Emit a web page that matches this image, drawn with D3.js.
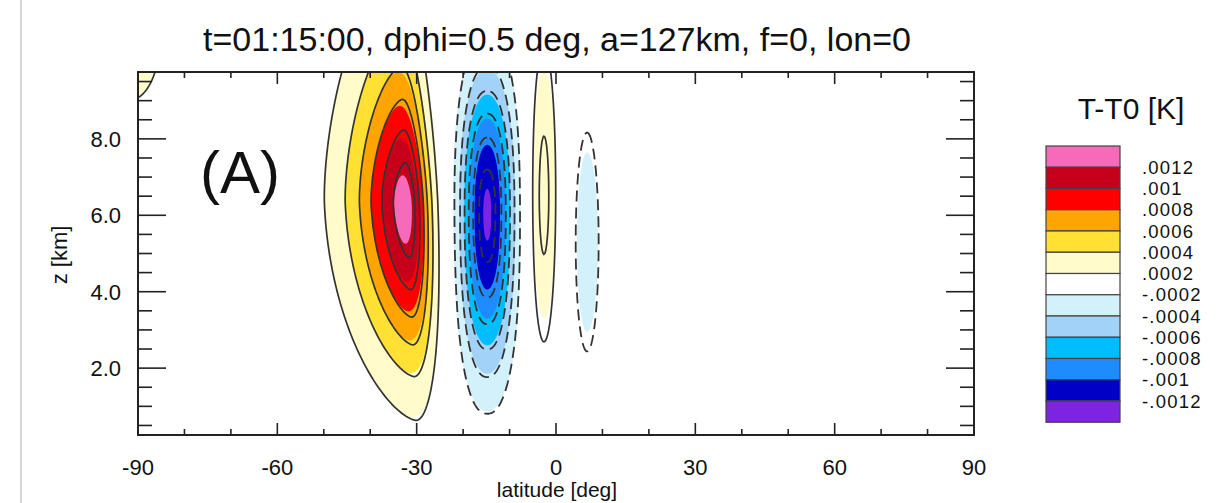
<!DOCTYPE html>
<html><head><meta charset="utf-8">
<script src="https://cdn.jsdelivr.net/npm/d3@7"></script>
<style>
body{margin:0;background:#fff;}
svg{display:block;}
text{font-family:"Liberation Sans",Arial,Helvetica,sans-serif;fill:#111;}
</style>
</head><body>
<svg id="c" width="1227" height="503"></svg>
<script>
// ---------- data ----------
const titleText = "t=01:15:00, dphi=0.5 deg, a=127km, f=0, lon=0";
const xLabel = "latitude [deg]";
const yLabel = "z [km]";
const legendTitle = "T-T0 [K]";
const panelTag = "(A)";
const xTicks = [-90, -60, -30, 0, 30, 60, 90];
const yTicks = [2, 4, 6, 8];
const yTickLabels = ["2.0", "4.0", "6.0", "8.0"];
const latDomain = [-90, 90];
const zDomain = [0.25, 9.75];
// contour levels (K)
const levels = [-0.0012, -0.001, -0.0008, -0.0006, -0.0004, -0.0002, 0.0002, 0.0004, 0.0006, 0.0008, 0.001, 0.0012];
const levelLabels = ["-.0012", "-.001", "-.0008", "-.0006", "-.0004", "-.0002", ".0002", ".0004", ".0006", ".0008", ".001", ".0012"];
// band colours, lowest band first
const bandColors = ["#7e22e4", "#0000c6", "#1e8cff", "#00bdfd", "#a2d2f7", "#d2f1fb", "#ffffff",
                    "#fffbcb", "#ffe033", "#ffa400", "#fe0000", "#c6001b", "#f56bb9"];
// anomaly cells: centre lat / z, peak (K), half-widths (deg west/east, km up/down),
// profile exponents (lat west/east, z up/down) and tilt (deg per km)
const cellLat   = [-32.1, -14.8, -2.6, 6.7, -92.0];
const cellZ     = [6.3, 6.05, 6.5, 5.3, 10.5];
const cellPeak  = [0.00135, -0.00129, 0.00046, -0.0003, 0.00024];
const cellWest  = [11.7, 5.5, 2.9, 3.9, 15.3];
const cellEast  = [4.9, 5.5, 2.9, 3.9, 15.3];
const cellUp    = [4.1, 3.6, 4.3, 4.5, 3.5];
const cellDown  = [4.1, 4.0, 4.2, 4.5, 3.5];
const cellPWest = [1.55, 2.3, 2.0, 2.0, 2.0];
const cellPEast = [2.0, 2.3, 2.0, 2.0, 2.0];
const cellPUp   = [1.6, 2.3, 2.0, 2.0, 2.0];
const cellPDown = [2.0, 2.3, 2.0, 2.0, 2.0];
const cellTilt  = [-0.35, 0.0, 0.0, 0.0, 0.0];

// ---------- layout ----------
const svg = d3.select("#c");
const X0 = 138, X1 = 974, Y0 = 72, Y1 = 435;
const x = d3.scaleLinear().domain(latDomain).range([X0, X1]);
const y = d3.scaleLinear().domain(zDomain).range([Y1, Y0]);

svg.append("line").attr("x1", 21).attr("x2", 21).attr("y1", 0).attr("y2", 503)
  .attr("stroke", "#c8c8c8").attr("stroke-width", 1.5);

// ---------- field ----------
function field(lat, z) {
  let v = 0;
  for (let k = 0; k < cellLat.length; k++) {
    const dz = z - cellZ[k];
    const dx = lat - (cellLat[k] + cellTilt[k] * dz);
    const ex = dx < 0 ? Math.pow(-dx / cellWest[k], cellPWest[k]) : Math.pow(dx / cellEast[k], cellPEast[k]);
    const ez = dz > 0 ? Math.pow(dz / cellUp[k], cellPUp[k]) : Math.pow(-dz / cellDown[k], cellPDown[k]);
    v += cellPeak[k] * Math.exp(-(ex + ez));
  }
  return v;
}
const gLat0 = -100, gLat1 = 100, gDl = 0.2, gZ0 = -0.5, gZ1 = 10.5, gDz = 0.02;
const nx = Math.round((gLat1 - gLat0) / gDl) + 1;
const ny = Math.round((gZ1 - gZ0) / gDz) + 1;
const raw = new Float64Array(nx * ny);
for (let j = 0; j < ny; j++) for (let i = 0; i < nx; i++)
  raw[j * nx + i] = field(gLat0 + i * gDl, gZ0 + j * gDz);
// shaded field: rendered as a slightly smoothed raster, like the original plot's fill
const shade = Float64Array.from(raw);
d3.blur2({data: shade, width: nx, height: ny}, 7, 4);

const proj = d3.geoTransform({
  point(px, py) { this.stream.point(x(gLat0 + (px - 0.5) * gDl), y(gZ0 + (py - 0.5) * gDz)); }
});
const path = d3.geoPath(proj);

svg.append("defs").append("clipPath").attr("id", "plotclip")
  .append("rect").attr("x", X0).attr("y", Y0).attr("width", X1 - X0).attr("height", Y1 - Y0);
const plot = svg.append("g").attr("clip-path", "url(#plotclip)");
plot.append("rect").attr("x", X0).attr("y", Y0).attr("width", X1 - X0).attr("height", Y1 - Y0).attr("fill", bandColors[6]);

const posLevels = levels.filter(l => l > 0);
const negLevels = levels.filter(l => l < 0).map(l => -l).sort((a, b) => a - b);
const C = d3.contours().size([nx, ny]);
const fillPos = C.thresholds(posLevels)(shade);
const fillNeg = C.thresholds(negLevels)(shade.map(v => -v));
const linePos = C.thresholds(posLevels)(raw);
const lineNeg = C.thresholds(negLevels)(raw.map(v => -v));

fillNeg.forEach((c, i) => plot.append("path").attr("d", path(c)).attr("fill", bandColors[5 - i]));
fillPos.forEach((c, i) => plot.append("path").attr("d", path(c)).attr("fill", bandColors[7 + i]));
lineNeg.forEach(c => plot.append("path").attr("d", path(c)).attr("fill", "none")
  .attr("stroke", "#333").attr("stroke-width", 1.8).attr("stroke-dasharray", "11,6"));
linePos.forEach(c => plot.append("path").attr("d", path(c)).attr("fill", "none")
  .attr("stroke", "#333").attr("stroke-width", 1.7));

// ---------- axes / ticks ----------
const tk = svg.append("g").attr("stroke", "#222").attr("stroke-width", 1.6);
const xMinor = d3.range(-80, 90, 10).filter(v => v % 30 !== 0);
xTicks.forEach(v => {
  tk.append("line").attr("x1", x(v)).attr("x2", x(v)).attr("y1", Y1).attr("y2", Y1 - 12);
  tk.append("line").attr("x1", x(v)).attr("x2", x(v)).attr("y1", Y0).attr("y2", Y0 + 12);
});
xMinor.forEach(v => {
  tk.append("line").attr("x1", x(v)).attr("x2", x(v)).attr("y1", Y1).attr("y2", Y1 - 6);
  tk.append("line").attr("x1", x(v)).attr("x2", x(v)).attr("y1", Y0).attr("y2", Y0 + 6);
});
const yMinor = d3.range(0.5, 9.75, 0.5).filter(v => !yTicks.includes(v));
yTicks.forEach(v => {
  tk.append("line").attr("x1", X0).attr("x2", X0 + 28).attr("y1", y(v)).attr("y2", y(v));
  tk.append("line").attr("x1", X1).attr("x2", X1 - 28).attr("y1", y(v)).attr("y2", y(v));
});
yMinor.forEach(v => {
  tk.append("line").attr("x1", X0).attr("x2", X0 + 14).attr("y1", y(v)).attr("y2", y(v));
  tk.append("line").attr("x1", X1).attr("x2", X1 - 14).attr("y1", y(v)).attr("y2", y(v));
});
svg.append("rect").attr("x", X0).attr("y", Y0).attr("width", X1 - X0).attr("height", Y1 - Y0)
  .attr("fill", "none").attr("stroke", "#222").attr("stroke-width", 2);

xTicks.forEach(v => svg.append("text").attr("x", x(v)).attr("y", 475).attr("text-anchor", "middle")
  .attr("font-size", 22).text(v));
yTicks.forEach((v, i) => svg.append("text").attr("x", 121).attr("y", y(v)).attr("dy", "0.36em")
  .attr("text-anchor", "end").attr("font-size", 22).text(yTickLabels[i]));

svg.append("text").attr("x", 557).attr("y", 497).attr("text-anchor", "middle").attr("font-size", 21).text(xLabel);
svg.append("text").attr("transform", "translate(67,255) rotate(-90)").attr("text-anchor", "middle")
  .attr("font-size", 22).text(yLabel);
svg.append("text").attr("x", 557).attr("y", 51).attr("text-anchor", "middle").attr("font-size", 34).text(titleText);
svg.append("text").attr("x", 200).attr("y", 193).attr("font-size", 60).text(panelTag);

// ---------- legend ----------
const LX = 1046, LW = 74, LT = 146, LH = 21.25;
const lg = svg.append("g");
bandColors.slice().reverse().forEach((c, i) => lg.append("rect").attr("x", LX).attr("y", LT + i * LH)
  .attr("width", LW).attr("height", LH).attr("fill", c).attr("stroke", "#444").attr("stroke-width", 1.2));
levelLabels.slice().reverse().forEach((t, i) => lg.append("text").attr("x", 1142).attr("y", LT + (i + 1) * LH)
  .attr("dy", "0.36em").attr("font-size", 18.5).attr("letter-spacing", 1.2).text(t));
svg.append("text").attr("x", 1131).attr("y", 119).attr("text-anchor", "middle").attr("font-size", 30).text(legendTitle);
</script>
</body></html>
